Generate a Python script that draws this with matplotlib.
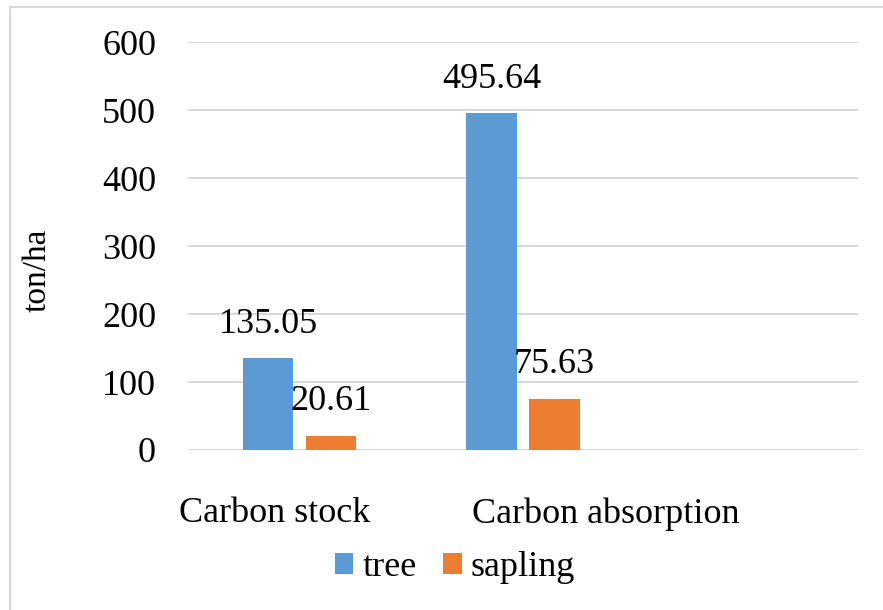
import numpy as np
import matplotlib
matplotlib.use("Agg")
import matplotlib.pyplot as plt
from matplotlib.patches import Rectangle

categories = ["Carbon stock", "Carbon absorption"]
tree = [135.05, 495.64]
sapling = [20.61, 75.63]
yticks = [0, 100, 200, 300, 400, 500, 600]

blue = "#5B9BD5"
orange = "#ED7D31"
grid_col = "#D9D9D9"

plt.rcParams["font.family"] = ["Liberation Serif", "DejaVu Serif"]

fig = plt.figure(figsize=(8.83, 6.10), dpi=100)
ax = fig.add_axes([188 / 883, 1 - 450 / 610, 670 / 883, (450 - 42.3) / 610])

# three category slots, third one is empty in the original
x = np.arange(len(categories))
w = 0.224
off = 0.141
b1 = ax.bar(x - off, tree, w, color=blue, label="tree", zorder=3)
b2 = ax.bar(x + off, sapling, w, color=orange, label="sapling", zorder=3)

for bars, vals in ((b1, tree), (b2, sapling)):
    for r, v in zip(bars, vals):
        ax.annotate(f"{v:.2f}", (r.get_x() + r.get_width() / 2, v),
                    xytext=(0, 24.5), textcoords="offset points",
                    ha="center", va="center", fontsize=26, color="#000000")

ax.set_xlim(-0.5, 2.5)
ax.set_ylim(0, 600)
ax.set_yticks(yticks)
ax.yaxis.grid(True, color=grid_col, linewidth=1.5, zorder=0)
for s in ax.spines.values():
    s.set_visible(False)
ax.tick_params(axis="y", length=0, pad=23, labelsize=26)
ax.set_xticks([-0.11, 1.37])
ax.set_xticklabels(categories, fontsize=26)
ax.tick_params(axis="x", length=0, pad=34)
ax.set_ylabel("ton/ha", fontsize=24)
ax.yaxis.set_label_coords(-135 / 670, 0.44)

fig.legend(handles=[b1, b2], loc="center", bbox_to_anchor=(455 / 883, 1 - 568 / 610),
           ncol=2, frameon=False, fontsize=26, handlelength=0.5, handleheight=0.5,
           handletextpad=0.25, columnspacing=0.75)

fig.patches.append(Rectangle((10 / 883, -0.1), 1.2, 1 - 7 / 610 + 0.1,
                             transform=fig.transFigure, fill=False,
                             edgecolor=grid_col, linewidth=1.5))

fig.savefig("out.png", dpi=100)
